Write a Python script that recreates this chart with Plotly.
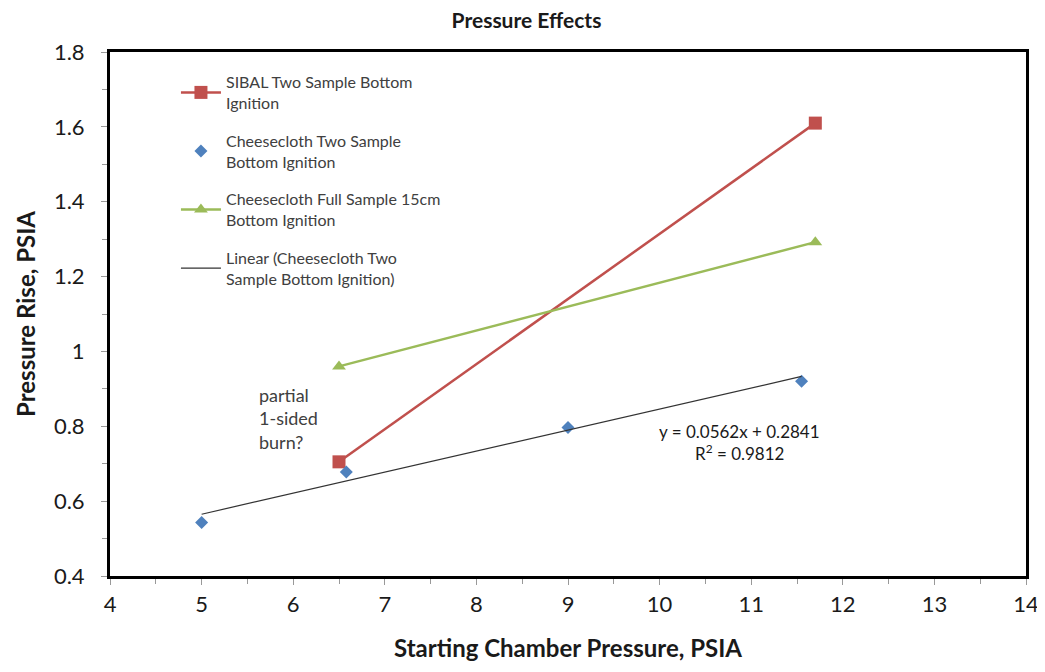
import plotly.graph_objects as go

sibal_x = [6.5, 11.7]
sibal_y = [0.705, 1.61]

cc2_x = [5.0, 6.58, 9.0, 11.55]
cc2_y = [0.543, 0.678, 0.797, 0.92]

ccfull_x = [6.5, 11.7]
ccfull_y = [0.96, 1.292]

slope = 0.0562
intercept = 0.2841
trend_x = [min(cc2_x), max(cc2_x)]
trend_y = [slope * v + intercept for v in trend_x]

x_ticks = list(range(4, 15))
y_ticks = [0.4, 0.6, 0.8, 1.0, 1.2, 1.4, 1.6, 1.8]
y_labels = ["0.4", "0.6", "0.8", "1", "1.2", "1.4", "1.6", "1.8"]

FONT = "Lato"
TXT = "#404040"
DARK = "#1a1a1a"

fig = go.Figure()
fig.add_trace(go.Scatter(
    x=sibal_x, y=sibal_y, mode="lines+markers", legendgroup="a",
    name="SIBAL Two Sample Bottom<br>Ignition",
    line=dict(color="#C0504D", width=2.5),
    marker=dict(symbol="square", size=13, color="#C0504D"),
))
fig.add_trace(go.Scatter(
    x=cc2_x, y=cc2_y, mode="markers", legendgroup="b",
    name="Cheesecloth Two Sample<br>Bottom Ignition",
    marker=dict(symbol="diamond", size=10, color="#4F81BD"),
))
fig.add_trace(go.Scatter(
    x=ccfull_x, y=ccfull_y, mode="lines+markers", legendgroup="c",
    name="Cheesecloth Full Sample 15cm<br>Bottom Ignition",
    line=dict(color="#9BBB59", width=2.5),
    marker=dict(symbol="triangle-up", size=12, color="#9BBB59"),
))
fig.add_trace(go.Scatter(
    x=trend_x, y=trend_y, mode="lines", legendgroup="d",
    name="Linear (Cheesecloth Two<br>Sample Bottom Ignition)",
    line=dict(color="#333333", width=1.2),
))

fig.add_annotation(
    x=5.6, y=0.822, xref="x", yref="y",
    text="partial<br>1-sided<br>burn?", showarrow=False,
    align="left", xanchor="left", yanchor="middle",
    font=dict(family=FONT, size=18, color=TXT),
)
fig.add_annotation(
    x=10.87, y=0.785, xref="x", yref="y",
    text="y = 0.0562x + 0.2841", showarrow=False,
    xanchor="center", yanchor="middle",
    font=dict(family=FONT, size=17, color=DARK),
)
fig.add_annotation(
    x=10.87, y=0.729, xref="x", yref="y",
    text="R<sup>2</sup> = 0.9812", showarrow=False,
    xanchor="center", yanchor="middle",
    font=dict(family=FONT, size=17, color=DARK),
)

axis_common = dict(
    showgrid=False, zeroline=False, automargin=False,
    showline=True, linecolor="black", linewidth=3, mirror=True,
    ticks="outside", tickcolor="#999999", ticklen=6,
    ticklabeloverflow="allow",
    tickfont=dict(family=FONT, size=22, color=DARK),
)

fig.update_xaxes(
    range=[4, 14], tickvals=x_ticks,
    ticklabelstandoff=1,
    minor=dict(dtick=0.5, ticks="outside", ticklen=5, tickcolor="#999999"),
    title=dict(text="<b>Starting Chamber Pressure, PSIA</b>",
               font=dict(family=FONT, size=24, color=DARK), standoff=24),
    **axis_common,
)
fig.update_yaxes(
    range=[0.4, 1.8], tickvals=y_ticks, ticktext=y_labels,
    ticklabelstandoff=12,
    minor=dict(dtick=0.1, ticks="outside", ticklen=5, tickcolor="#999999"),
    title=dict(text="<b>Pressure Rise, PSIA</b>",
               font=dict(family=FONT, size=24, color=DARK), standoff=12),
    **axis_common,
)

fig.update_layout(
    width=1037, height=656,
    margin=dict(l=102, r=19, t=44, b=88),
    paper_bgcolor="white", plot_bgcolor="white",
    title=dict(text="<b>Pressure Effects</b>", x=0.5, xanchor="center",
               y=0.98, yanchor="middle",
               font=dict(family=FONT, size=21, color=DARK)),
    showlegend=True,
    legend=dict(
        x=0.072, y=0.975, xanchor="left", yanchor="top",
        bgcolor="rgba(255,255,255,0)",
        font=dict(family=FONT, size=16, color=TXT),
        tracegroupgap=14, itemwidth=40,
    ),
)

fig.write_html("out.html")
